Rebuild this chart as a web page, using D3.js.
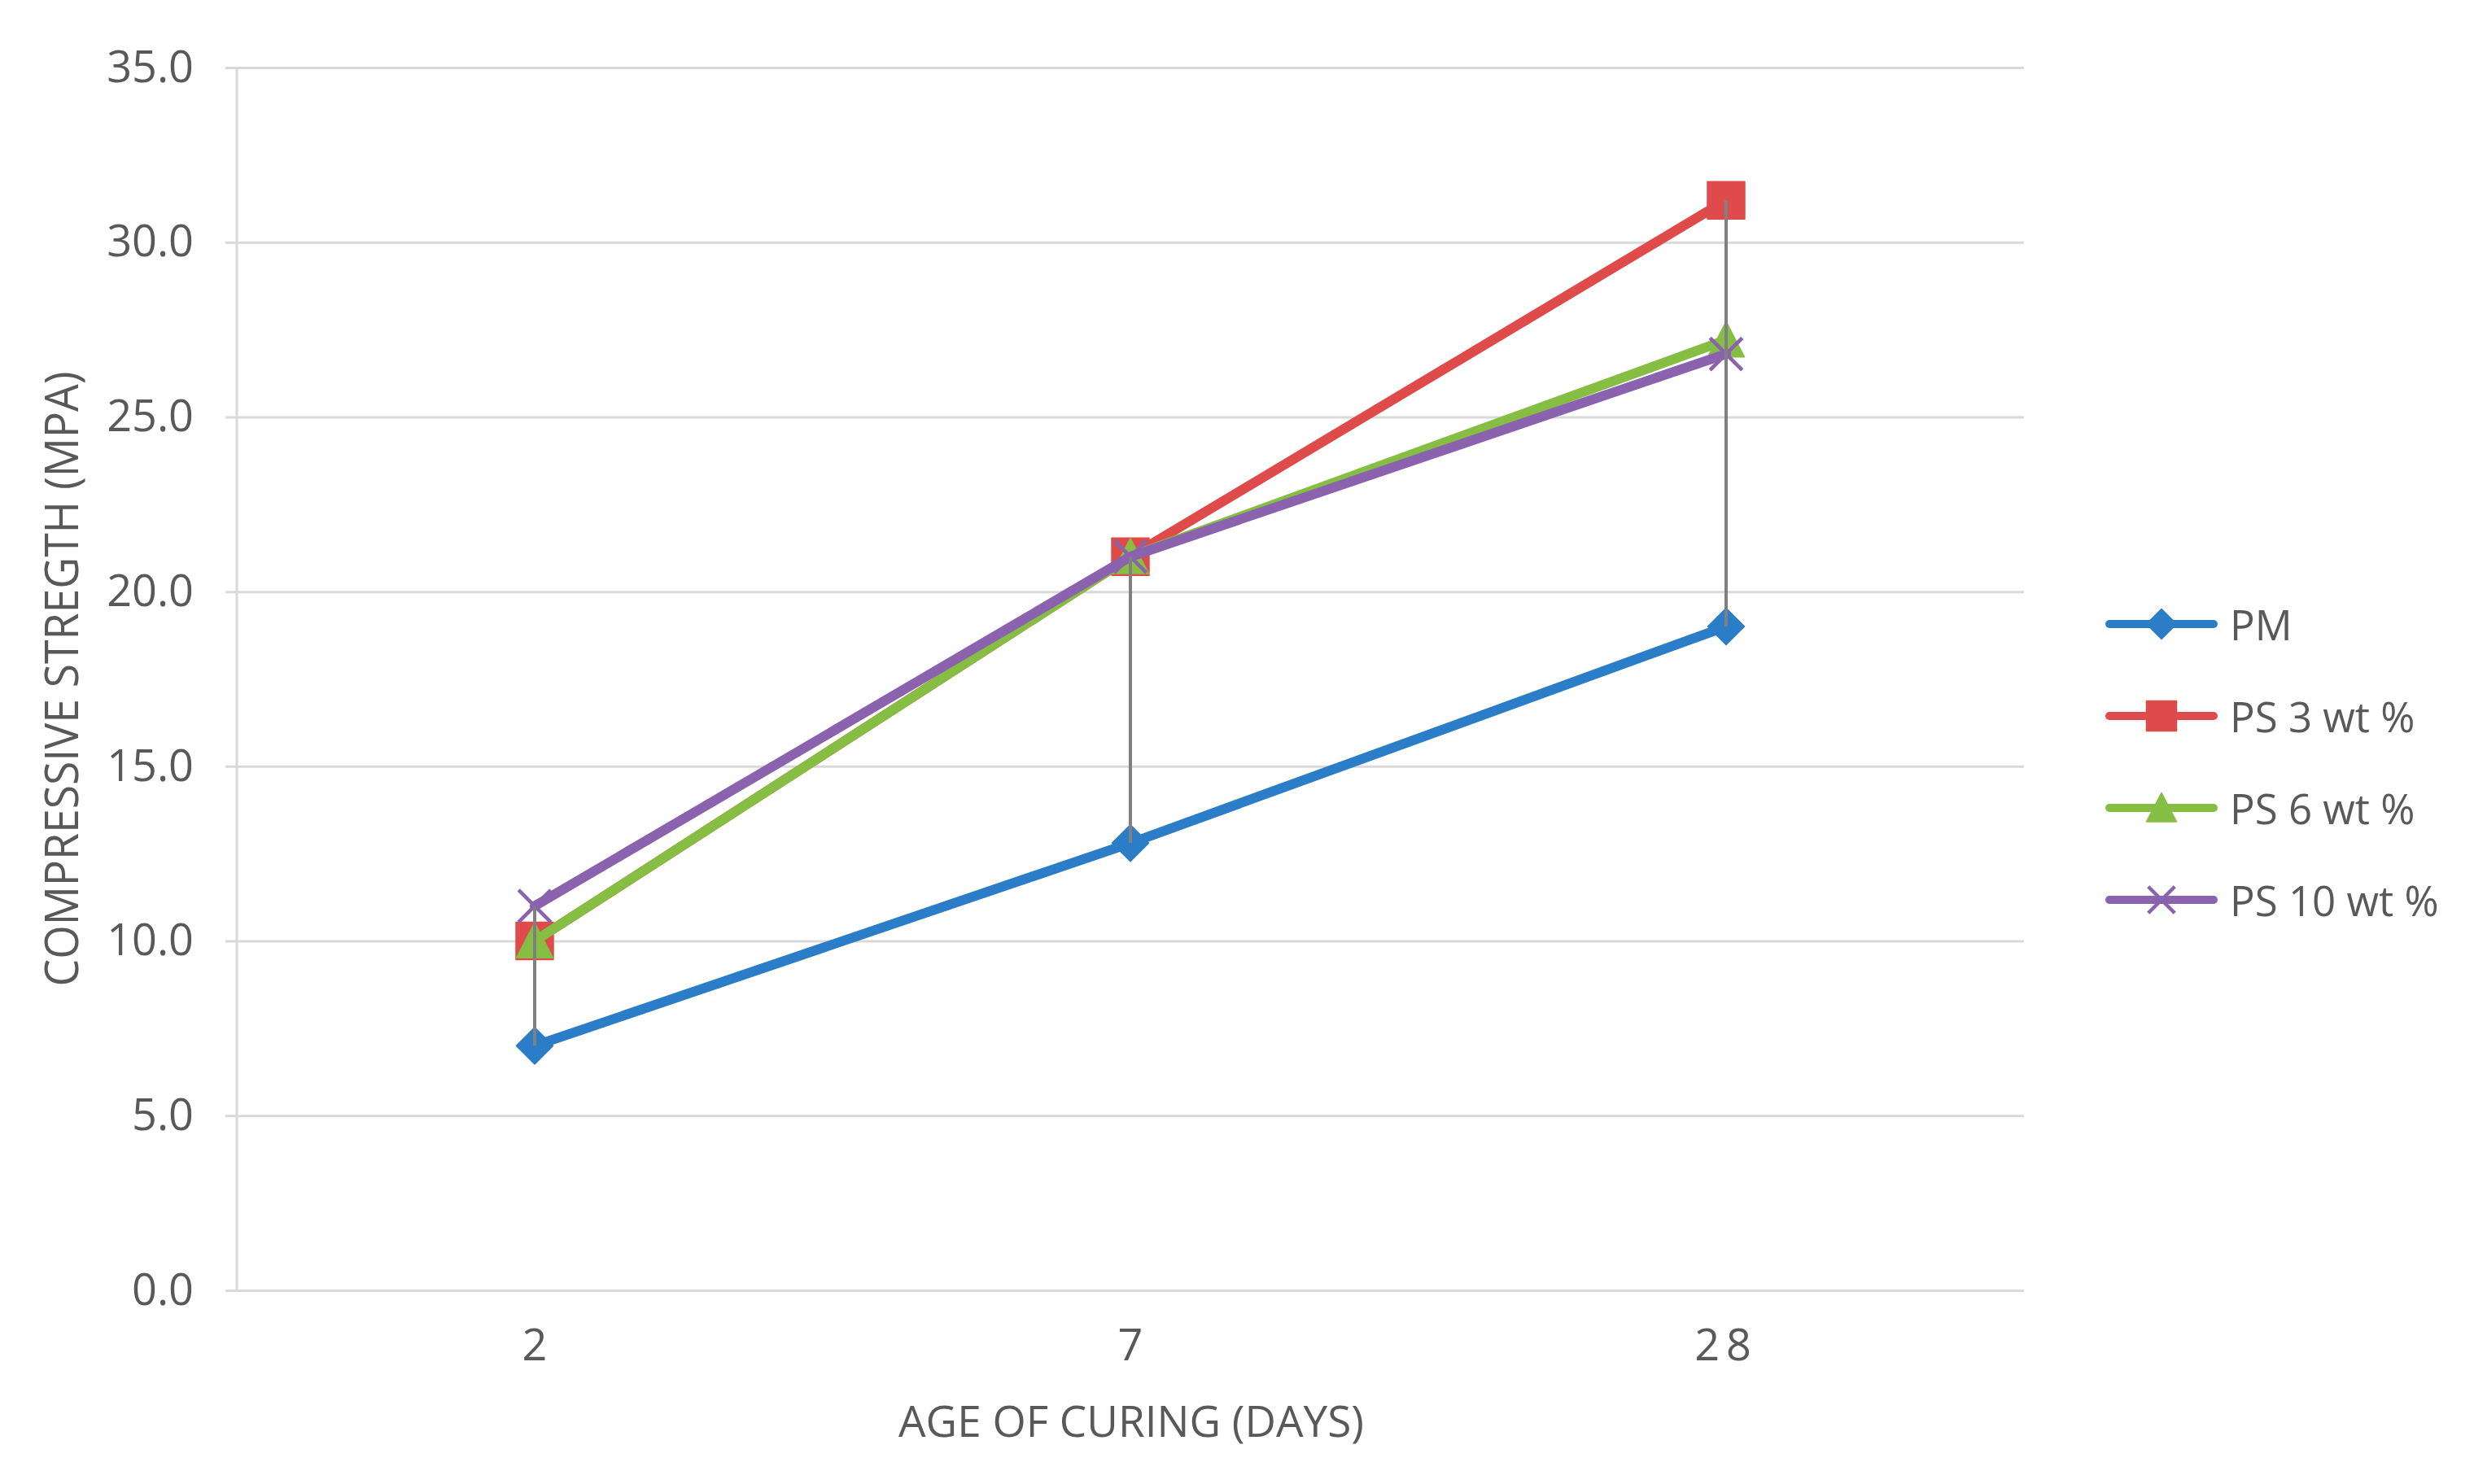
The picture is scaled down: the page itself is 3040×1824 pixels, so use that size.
<!DOCTYPE html>
<html>
<head>
<meta charset="utf-8">
<script src="https://cdn.jsdelivr.net/npm/d3@7"></script>
<style>
  html, body { margin: 0; padding: 0; background: #ffffff; }
  svg { display: block; }
  text { font-family: "Open Sans", "Noto Sans", sans-serif; fill: #595959; }
</style>
</head>
<body>
<script>
// ---- data ----
const categories = ["2", "7", "28"];
const seriesNames = ["PM", "PS 3 wt %", "PS 6 wt %", "PS 10 wt %"];
const pmValues   = [7.0, 12.8, 19.0];
const ps3Values  = [10.0, 21.0, 31.2];
const ps6Values  = [10.0, 21.0, 27.2];
const ps10Values = [11.0, 21.0, 26.8];
const yTicks = [0, 5, 10, 15, 20, 25, 30, 35];
const xTitle = "AGE OF CURING (DAYS)";
const yTitle = "COMPRESSIVE STREGTH (MPA)";

// ---- styles ----
const colors = ["#2a7dc6", "#df4b4b", "#86bd43", "#8a62ae"];
const markerTypes = ["diamond", "square", "triangle", "x"];

const W = 3040, H = 1824;
const plot = { left: 291, right: 2487, top: 83, bottom: 1586 };

const svg = d3.select("body").append("svg").attr("width", W).attr("height", H);

const x = d3.scaleBand().domain(categories).range([plot.left, plot.right]).padding(0);
const y = d3.scaleLinear().domain([0, 35]).range([plot.bottom, plot.top]);

const series = [pmValues, ps3Values, ps6Values, ps10Values].map((vals, i) => ({
  name: seriesNames[i], color: colors[i], marker: markerTypes[i],
  points: categories.map((c, j) => ({ cat: c, value: vals[j] }))
}));

// ---- y axis with gridlines ----
const gridStart = 277;
const yAxis = d3.axisLeft(y)
  .tickValues(yTicks)
  .tickFormat(d3.format(".1f"))
  .tickSizeInner(-(plot.right - gridStart))
  .tickSizeOuter(0)
  .tickPadding(39);
const gy = svg.append("g").attr("transform", `translate(${gridStart},0)`).call(yAxis);
gy.select(".domain").remove();
gy.selectAll(".tick line").attr("stroke", "#d9d9d9").attr("stroke-width", 3);
gy.selectAll(".tick text")
  .attr("font-size", 54)
  .attr("fill", "#595959")
  .style("font-family", '"Open Sans", sans-serif');

// vertical axis line
svg.append("line")
  .attr("x1", plot.left).attr("x2", plot.left)
  .attr("y1", y(35)).attr("y2", y(0))
  .attr("stroke", "#d9d9d9").attr("stroke-width", 3);

// ---- x axis ----
const xAxis = d3.axisBottom(x).tickSize(0).tickPadding(48);
const gx = svg.append("g").attr("transform", `translate(0,${plot.bottom})`).call(xAxis);
gx.select(".domain").remove();
gx.selectAll(".tick text")
  .attr("font-size", 54)
  .attr("fill", "#595959")
  .attr("letter-spacing", d => d.length > 1 ? 8 : 0)
  .style("font-family", '"Open Sans", sans-serif');

// ---- titles ----
svg.append("text")
  .attr("x", 1390).attr("y", 1745)
  .attr("text-anchor", "middle").attr("dominant-baseline", "central")
  .attr("font-size", 53)
  .attr("textLength", 572).attr("lengthAdjust", "spacingAndGlyphs")
  .text(xTitle);

svg.append("text")
  .attr("transform", `translate(74,${(plot.top + plot.bottom) / 2}) rotate(-90)`)
  .attr("text-anchor", "middle").attr("dominant-baseline", "central")
  .attr("font-size", 56)
  .attr("textLength", 756).attr("lengthAdjust", "spacingAndGlyphs")
  .text(yTitle);

// ---- marker shapes ----
function markerPath(type, s) {
  const p = d3.path();
  if (type === "diamond") {
    p.moveTo(0, -s); p.lineTo(s, 0); p.lineTo(0, s); p.lineTo(-s, 0); p.closePath();
  } else if (type === "square") {
    p.rect(-s, -s, 2 * s, 2 * s);
  } else if (type === "triangle") {
    p.moveTo(0, -s); p.lineTo(s, s * 0.92); p.lineTo(-s, s * 0.92); p.closePath();
  } else {
    const a = s * 0.88;
    p.moveTo(-a, -a); p.lineTo(a, a); p.moveTo(a, -a); p.lineTo(-a, a);
  }
  return p.toString();
}
function drawMarker(g, type, color, s) {
  const path = g.append("path").attr("d", markerPath(type, s));
  if (type === "x") {
    path.attr("fill", "none").attr("stroke", color).attr("stroke-width", 4.5);
  } else {
    path.attr("fill", color).attr("stroke", color).attr("stroke-width", 1.5)
      .attr("stroke-linejoin", "round");
  }
}

// ---- series ----
const line = d3.line()
  .x(d => x(d.cat) + x.bandwidth() / 2)
  .y(d => y(d.value));

series.forEach(s => {
  const g = svg.append("g");
  g.append("path")
    .attr("d", line(s.points))
    .attr("fill", "none")
    .attr("stroke", s.color)
    .attr("stroke-width", 12)
    .attr("stroke-linejoin", "round")
    .attr("stroke-linecap", "round");
  s.points.forEach(pt => {
    const mg = g.append("g")
      .attr("transform", `translate(${x(pt.cat) + x.bandwidth() / 2},${y(pt.value)})`);
    drawMarker(mg, s.marker, s.color, s.marker === "square" ? 23 : 22.5);
  });
});

// ---- high-low lines ----
categories.forEach((c, j) => {
  const vals = series.map(s => s.points[j].value);
  const cx = x(c) + x.bandwidth() / 2;
  svg.append("line")
    .attr("x1", cx).attr("x2", cx)
    .attr("y1", y(d3.max(vals))).attr("y2", y(d3.min(vals)))
    .attr("stroke", "#808080").attr("stroke-width", 4);
});

// ---- legend ----
const legendY0 = 767, legendStep = 113;
series.forEach((s, i) => {
  const g = svg.append("g").attr("transform", `translate(0,${legendY0 + i * legendStep})`);
  g.append("line")
    .attr("x1", 2592).attr("x2", 2720)
    .attr("y1", 0).attr("y2", 0)
    .attr("stroke", s.color).attr("stroke-width", 10)
    .attr("stroke-linecap", "round");
  const mg = g.append("g").attr("transform", "translate(2656,0)");
  drawMarker(mg, s.marker, s.color, 18.5);
  g.append("text")
    .attr("x", 2740).attr("y", 0)
    .attr("dominant-baseline", "central")
    .attr("font-size", 51)
    .text(s.name);
});
</script>
</body>
</html>
